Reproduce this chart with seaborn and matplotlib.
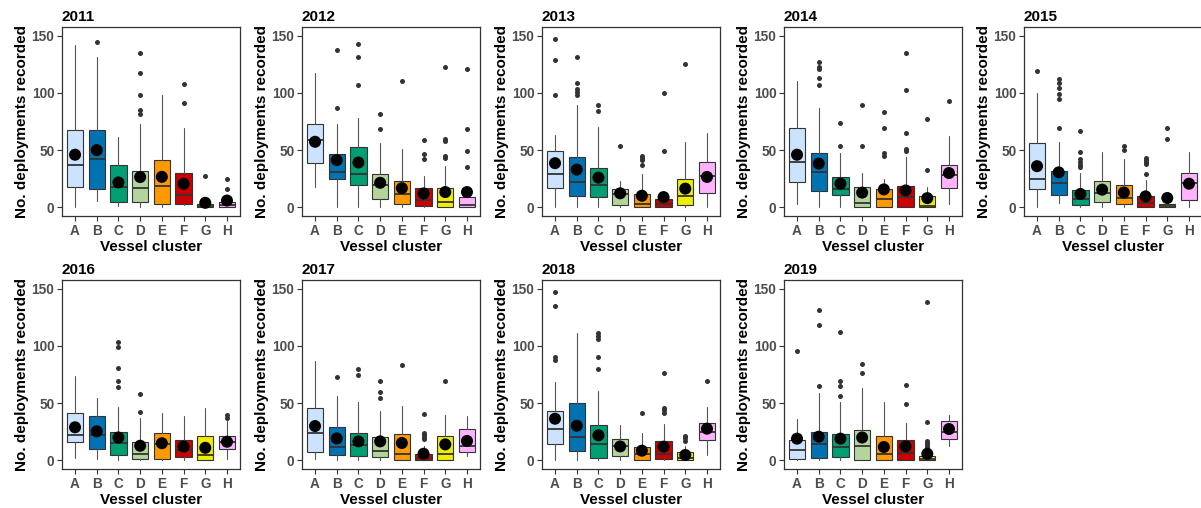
import matplotlib
matplotlib.use("Agg")
import matplotlib.pyplot as plt
import seaborn as sns

# Vessel clusters and their fill colours
clusters = ["A", "B", "C", "D", "E", "F", "G", "H"]
cluster_colors = ["#cce3ff", "#0072b2", "#009e73", "#b3d59b",
                  "#ff9900", "#cc0000", "#eeee00", "#ffb3ff"]

years = [2011, 2012, 2013, 2014, 2015, 2016, 2017, 2018, 2019]

# Box statistics per year (rows) and cluster (columns)
box_q1 = [
    [17.7, 15.7, 4.4, 4.7, 2.6, 2.9, 0.0, 0.3],
    [39.0, 24.7, 19.5, 7.0, 2.6, 1.5, 0.3, 0.3],
    [17.0, 10.0, 8.8, 1.8, 0.0, 0.0, 2.3, 13.0],
    [22.0, 14.6, 10.8, 0.0, 0.6, 0.3, 0.3, 17.2],
    [16.3, 11.0, 2.0, 5.0, 2.6, 0.0, 0.0, 6.7],
    [16.0, 10.2, 4.4, 1.0, 1.2, 3.2, 0.3, 10.0],
    [7.0, 5.0, 4.0, 3.0, 0.3, 0.0, 0.0, 7.6],
    [14.3, 7.9, 1.7, 3.5, 0.0, 1.2, 0.0, 17.5],
    [0.9, 1.7, 3.2, 0.3, 0.0, 0.0, 0.0, 18.6],
]
box_median = [
    [36.6, 42.0, 18.0, 16.6, 18.6, 11.0, 1.0, 2.3],
    [58.7, 31.1, 29.0, 20.0, 11.3, 6.4, 4.7, 2.3],
    [29.5, 22.2, 20.0, 11.7, 3.2, 2.6, 10.2, 27.0],
    [39.5, 30.7, 16.4, 3.5, 7.6, 8.7, 1.5, 28.2],
    [25.0, 21.0, 7.6, 12.2, 8.2, 3.8, 1.2, 21.6],
    [21.9, 22.4, 14.9, 5.5, 14.6, 9.3, 4.4, 16.3],
    [24.2, 12.0, 13.4, 8.2, 5.5, 1.7, 6.0, 12.5],
    [27.7, 20.0, 14.6, 12.2, 6.0, 5.8, 1.7, 25.0],
    [9.0, 14.3, 11.4, 12.2, 5.8, 6.4, 0.9, 24.8],
]
box_q3 = [
    [67.7, 68.0, 37.0, 31.7, 41.0, 30.2, 3.0, 4.6],
    [72.4, 46.8, 52.9, 28.8, 22.7, 17.2, 17.2, 9.0],
    [49.0, 44.4, 34.5, 15.8, 12.0, 7.6, 24.5, 39.8],
    [69.0, 47.7, 26.3, 18.0, 16.3, 18.9, 10.2, 37.2],
    [56.0, 31.8, 15.5, 22.7, 19.2, 10.2, 3.0, 29.7],
    [41.0, 38.5, 24.5, 16.0, 24.2, 17.8, 21.3, 21.0],
    [45.8, 29.0, 24.2, 20.7, 22.7, 5.5, 21.3, 27.0],
    [42.9, 50.4, 31.0, 19.0, 11.4, 16.6, 7.0, 33.0],
    [18.0, 24.8, 23.3, 26.9, 21.0, 17.5, 3.5, 34.0],
]
whisker_low = [
    [0.0, 5.5, 1.0, 0.5, 0.5, 2.0, 0.0, 0.0],
    [18.0, 0.5, 0.5, 0.5, 0.5, 0.5, 0.0, 0.0],
    [0.0, 0.0, 0.0, 0.5, 0.0, 0.0, 0.5, 0.0],
    [3.0, 0.3, 0.5, 0.0, 0.0, 0.0, 0.0, 3.2],
    [0.0, 4.0, 0.5, 0.5, 0.5, 0.0, 0.0, 0.5],
    [1.7, 1.0, 0.5, 0.5, 0.5, 0.5, 0.0, 1.0],
    [1.0, 0.5, 0.5, 0.5, 0.0, 0.0, 0.0, 3.8],
    [0.6, 0.6, 0.5, 0.5, 0.0, 0.5, 0.0, 5.0],
    [0.5, 0.5, 0.5, 0.0, 0.0, 0.0, 0.0, 12.2],
]
whisker_high = [
    [142.0, 131.0, 61.6, 73.0, 98.0, 69.0, 7.0, 9.0],
    [117.7, 73.0, 78.0, 55.8, 51.0, 27.0, 35.8, 17.0],
    [63.0, 89.5, 70.5, 23.0, 29.0, 13.0, 57.0, 65.0],
    [110.5, 86.5, 47.4, 30.4, 24.4, 43.9, 17.7, 62.0],
    [99.7, 57.0, 30.0, 48.7, 42.6, 23.6, 6.0, 48.7],
    [73.8, 54.8, 46.6, 37.0, 41.7, 38.5, 45.5, 34.4],
    [86.9, 56.0, 51.3, 43.4, 47.8, 12.5, 40.0, 38.8],
    [68.5, 110.8, 60.6, 30.6, 24.0, 31.8, 12.8, 47.0],
    [36.5, 58.6, 50.8, 63.6, 51.0, 32.4, 8.8, 40.0],
]
mean_deployments = [
    [46.0, 50.0, 21.8, 26.5, 26.7, 20.6, 4.0, 6.0],
    [57.3, 41.3, 39.2, 21.5, 16.8, 12.2, 13.4, 13.4],
    [38.6, 33.0, 26.0, 12.3, 10.2, 9.0, 16.4, 26.6],
    [46.0, 38.3, 20.8, 12.9, 15.7, 14.8, 8.1, 30.0],
    [36.0, 30.6, 11.7, 15.5, 13.0, 9.6, 8.2, 20.7],
    [28.9, 25.4, 20.0, 12.8, 15.0, 12.0, 11.0, 16.3],
    [30.0, 19.2, 16.6, 16.6, 15.2, 5.8, 14.0, 17.0],
    [36.4, 30.3, 21.9, 12.2, 8.5, 12.0, 4.7, 27.7],
    [19.0, 20.7, 19.0, 20.0, 11.7, 12.2, 5.8, 27.4],
]
outliers = [
    [[], [144.5], [], [135, 117.4, 98, 85, 81.4], [], [108, 91], [27.3], [24.4, 16]],
    [[], [137, 87], [142.7, 131.4, 106.7], [81.4, 68.6], [110], [59, 46.8, 41.9],
     [122.4, 60, 57.9, 44.5, 42.7], [121, 68.6, 49, 35.2]],
    [[147, 129, 98], [131.6, 109, 103.5, 101, 98.5], [89, 84], [53.5],
     [44.7, 43, 41, 37.4], [100, 49.4], [125], []],
    [[], [127, 123, 121, 113, 107], [73.4, 53.8], [89, 53.5],
     [83.7, 68.9, 47.4, 45], [135, 102.6, 64.8, 50.6, 49], [77.6, 32.9], [92.7]],
    [[119], [112, 109, 104.6, 99.4, 94.5, 69], [66.8, 48, 42.6, 40, 37, 35], [],
     [53.6, 50], [43.4, 41.7, 40, 38, 28.9], [69, 60], []],
    [[], [], [103, 98.8, 81, 69.4, 64.4], [58, 42.6], [], [], [], [40, 37]],
    [[], [72.6], [80, 74.6], [69, 60, 54.5], [83], [40.5, 24, 22, 20, 18.6], [69], []],
    [[147, 134.7, 90, 88], [], [111, 108.5, 106, 90.7, 80], [], [41.4],
     [76.4, 45.5, 44, 41], [21.5, 19.8, 17.2], [69.7]],
    [[95.7], [131, 117.9, 64.8], [112, 69.7, 64.8, 56.4], [84.6, 76], [],
     [65.4, 49], [138, 33.8, 16.6, 15, 13.7, 12], []],
]

sns.set_theme(style="white")
plt.rcParams["font.family"] = ["Liberation Sans", "DejaVu Sans"]

W, H = 1201, 508
fig = plt.figure(figsize=(W / 100, H / 100), dpi=100)

col_left = [62, 302, 542, 784, 1024]
row_bottom = [216, 469]
panel_w, panel_h = 178, 189

edge = "#333333"
positions = list(range(len(clusters)))

for i, year in enumerate(years):
    r, c = divmod(i, 5)
    left = col_left[c]
    bottom = row_bottom[r]
    ax = fig.add_axes([left / W, (H - bottom) / H, panel_w / W, panel_h / H])

    stats = []
    for j in positions:
        stats.append(dict(
            q1=box_q1[i][j], med=box_median[i][j], q3=box_q3[i][j],
            whislo=whisker_low[i][j], whishi=whisker_high[i][j],
            fliers=outliers[i][j],
        ))
    bp = ax.bxp(
        stats, positions=positions, widths=0.75, patch_artist=True,
        showcaps=False, showfliers=True,
        boxprops=dict(edgecolor=edge, linewidth=0.8),
        medianprops=dict(color=edge, linewidth=1.3),
        whiskerprops=dict(color="#555555", linewidth=0.8),
        flierprops=dict(marker="o", markersize=3.6, markerfacecolor=edge,
                        markeredgecolor="none"),
    )
    for patch, col in zip(bp["boxes"], cluster_colors):
        patch.set_facecolor(col)

    sns.scatterplot(x=positions, y=mean_deployments[i], color="black",
                    s=75, edgecolor="none", legend=False, ax=ax, zorder=5)

    ax.set_xlim(-0.6, 7.6)
    ax.set_ylim(-7.5, 157.5)
    ax.set_xticks(positions)
    ax.set_xticklabels(clusters)
    ax.set_yticks([0, 50, 100, 150])
    ax.set_yticklabels(["0", "50", "100", "150"])
    ax.tick_params(axis="both", which="both", length=3.5, width=0.8,
                   color="#333333", pad=2, labelsize=9.8,
                   labelcolor="#4d4d4d", bottom=True, left=True)
    for lab in ax.get_xticklabels() + ax.get_yticklabels():
        lab.set_fontweight("bold")
    for sp in ax.spines.values():
        sp.set_color("#333333")
        sp.set_linewidth(0.9)

    ax.set_xlabel("Vessel cluster", fontsize=11, fontweight="bold",
                  color="black", labelpad=2)
    ax.set_ylabel("No. deployments recorded", fontsize=11, fontweight="bold",
                  color="black", labelpad=2)
    ax.set_title(str(year), loc="left", fontsize=11, fontweight="bold",
                 color="black", pad=4)

fig.savefig("out.png", dpi=100, facecolor="white")
